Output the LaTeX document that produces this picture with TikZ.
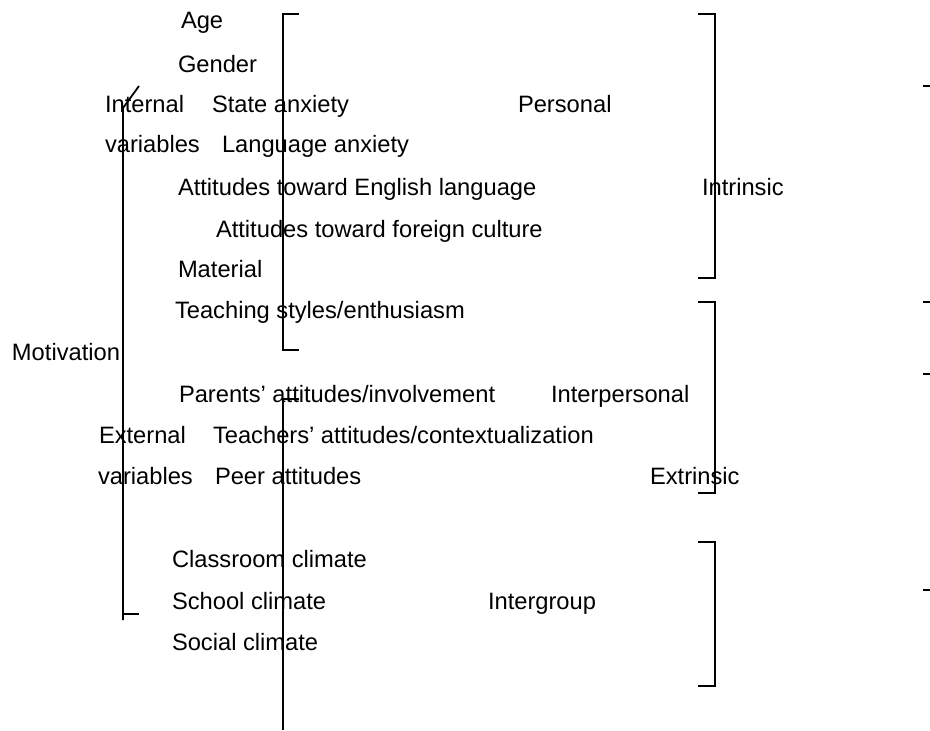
\documentclass[tikz,border=0pt]{standalone}
\usepackage{fontspec}
\setmainfont{Liberation Sans}
\begin{document}
\begin{tikzpicture}[x=1pt,y=-1pt,
  lbl/.style={anchor=base west,inner sep=0pt,outer sep=0pt,font=\fontsize{23.7}{28}\selectfont},
  brk/.style={line width=1.8pt,line cap=butt,line join=miter}]
\useasboundingbox (0,0) rectangle (930,731);
% labels
\node[lbl] (age) at (181,28) {Age};
\node[lbl] (gender) at (178,72) {Gender};
\node[lbl] (internal) at (105,112) {Internal};
\node[lbl] (state) at (212,112) {State anxiety};
\node[lbl] (personal) at (518,112) {Personal};
\node[lbl] (intvar) at (105,152) {variables};
\node[lbl] (lang) at (222,152) {Language anxiety};
\node[lbl] (attEng) at (178,195) {Attitudes toward English language};
\node[lbl] (intrinsic) at (702,195) {Intrinsic};
\node[lbl] (attFor) at (216,237) {Attitudes toward foreign culture};
\node[lbl] (material) at (178,277) {Material};
\node[lbl] (teaching) at (175,318) {Teaching styles/enthusiasm};
\node[lbl] (motivation) at (12,360) {Motivation};
\node[lbl] (parents) at (179,402) {Parents’ attitudes/involvement};
\node[lbl] (interpersonal) at (551,402) {Interpersonal};
\node[lbl] (external) at (99,443) {External};
\node[lbl] (teachers) at (213,443) {Teachers’ attitudes/contextualization};
\node[lbl] (extvar) at (98,484) {variables};
\node[lbl] (peer) at (215,484) {Peer attitudes};
\node[lbl] (extrinsic) at (650,484) {Extrinsic};
\node[lbl] (classroom) at (172,567) {Classroom climate};
\node[lbl] (school) at (172,609) {School climate};
\node[lbl] (intergroup) at (488,609) {Intergroup};
\node[lbl] (social) at (172,650) {Social climate};
% bracket coordinates
\coordinate (s1) at (139,86);
\coordinate (v1t) at (123,108);
\coordinate (v1b) at (123,620);
\coordinate (v1k) at (123,614);
\coordinate (v1e) at (139,614);
\coordinate (b2a) at (299,14);
\coordinate (b2b) at (283,14);
\coordinate (b2c) at (283,350);
\coordinate (b2d) at (299,350);
\coordinate (b3a) at (299,399);
\coordinate (b3b) at (283,399);
\coordinate (b3c) at (283,730);
\coordinate (p1) at (698,14);
\coordinate (p2) at (715,14);
\coordinate (p3) at (715,278);
\coordinate (p4) at (698,278);
\coordinate (q1) at (698,302);
\coordinate (q2) at (715,302);
\coordinate (q3) at (715,493);
\coordinate (q4) at (698,493);
\coordinate (r1) at (698,542);
\coordinate (r2) at (715,542);
\coordinate (r3) at (715,686);
\coordinate (r4) at (698,686);
\coordinate (t1a) at (923,86);  \coordinate (t1b) at (930,86);
\coordinate (t2a) at (923,302); \coordinate (t2b) at (930,302);
\coordinate (t3a) at (923,374); \coordinate (t3b) at (930,374);
\coordinate (t4a) at (923,590); \coordinate (t4b) at (930,590);
% brackets
\draw[brk] (s1) -- (v1t) -- (v1b);
\draw[brk] (v1k) -- (v1e);
\draw[brk] (b2a) -- (b2b) -- (b2c) -- (b2d);
\draw[brk] (b3a) -- (b3b) -- (b3c);
\draw[brk] (p1) -- (p2) -- (p3) -- (p4);
\draw[brk] (q1) -- (q2) -- (q3) -- (q4);
\draw[brk] (r1) -- (r2) -- (r3) -- (r4);
\draw[brk] (t1a) -- (t1b);
\draw[brk] (t2a) -- (t2b);
\draw[brk] (t3a) -- (t3b);
\draw[brk] (t4a) -- (t4b);
\end{tikzpicture}
\end{document}
